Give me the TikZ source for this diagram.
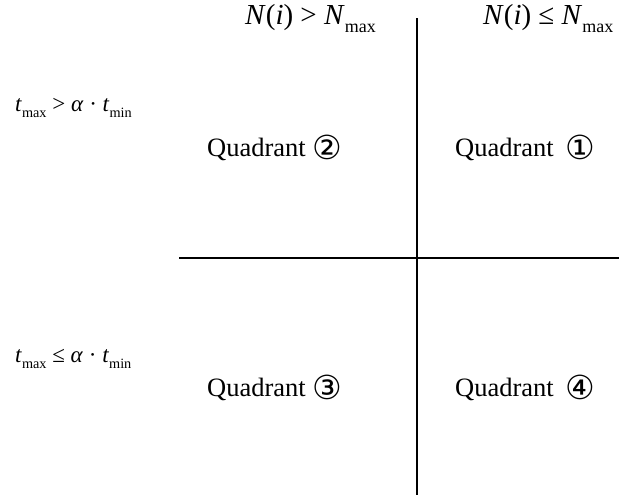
\documentclass[tikz,border=0pt]{standalone}
\usepackage{fontspec}
\setmainfont{Liberation Serif}
\newfontfamily\circfont[Scale=1.25]{DejaVu Sans}
\usetikzlibrary{positioning}
\newcommand{\lowsub}[1]{\raisebox{-0.28em}{\fontsize{0.62em}{0.7em}\selectfont #1}}
\newcommand{\circnum}[1]{\raisebox{-0.12em}{\circfont #1}}
\tikzset{
  headlabel/.style={anchor=base west, inner sep=0pt, font=\fontsize{29}{32}\selectfont},
  sidelabel/.style={anchor=base west, inner sep=0pt, font=\fontsize{23}{27}\selectfont},
  quadlabel/.style={anchor=base west, inner sep=0pt, font=\fontsize{26.5}{30}\selectfont},
  divider/.style={line width=2pt, color=black}
}

\begin{document}
\begin{tikzpicture}[x=1pt, y=-1pt]
  \useasboundingbox (0,0) rectangle (619,499);
  % column headings
  \node[headlabel] (hdleft) at (245,24) {\textit{N}(\textit{i}) > \textit{N}\lowsub{max}};
  \node[headlabel] (hdright) at (483,24) {\textit{N}(\textit{i}) ≤ \textit{N}\lowsub{max}};
  % row headings
  \node[sidelabel] (rowtop) at (15,111) {\textit{t}\lowsub{max} > \textit{α} · \textit{t}\lowsub{min}};
  \node[sidelabel] (rowbot) at (15,362) {\textit{t}\lowsub{max} ≤ \textit{α} · \textit{t}\lowsub{min}};
  % quadrants
  \node[quadlabel] (qtwo) at (207,156) {Quadrant \circnum{②}};
  \node[quadlabel] (qone) at (455,156) {Quadrant\hspace{0.45em}\circnum{①}};
  \node[quadlabel] (qthree) at (207,396) {Quadrant \circnum{③}};
  \node[quadlabel] (qfour) at (455,396) {Quadrant\hspace{0.45em}\circnum{④}};
  % axes
  \coordinate (vtop) at (417,18);
  \coordinate (vbot) at (417,495);
  \coordinate (hlft) at (179,258);
  \coordinate (hrgt) at (619,258);
  \draw[divider] (vtop) -- (vbot);
  \draw[divider] (hlft) -- (hrgt);
\end{tikzpicture}
\end{document}
